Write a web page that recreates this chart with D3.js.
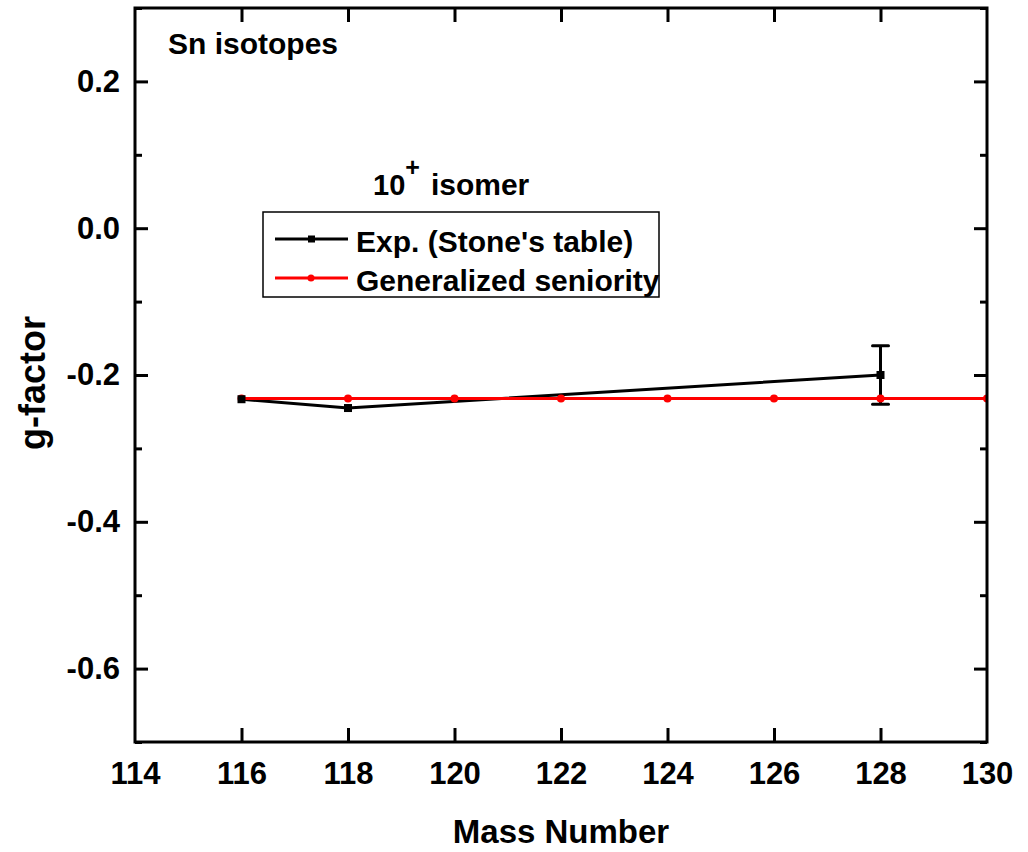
<!DOCTYPE html>
<html>
<head>
<meta charset="utf-8">
<script src="https://cdn.jsdelivr.net/npm/d3@7"></script>
<style>
  html, body { margin: 0; padding: 0; background: #fff; }
  svg { display: block; }
  text { font-family: "Liberation Sans", Arial, sans-serif; font-weight: bold; fill: #000; }
</style>
</head>
<body>
<svg id="chart" width="1028" height="852"></svg>
<script>
// Experimental g-factors of the 10+ isomer (Stone's table)
const massExp = [116, 118, 128];
const gExp = [-0.233, -0.245, -0.200];
const errExp = [0.005, 0.005, 0.040];

// Generalized seniority prediction
const massSen = [116, 118, 120, 122, 124, 126, 128, 130];
const gSen = [-0.232, -0.232, -0.232, -0.232, -0.232, -0.232, -0.232, -0.232];

// Axis ticks
const xTicks = [114, 116, 118, 120, 122, 124, 126, 128, 130];
const yTicks = [0.2, 0.0, -0.2, -0.4, -0.6];
const yMinorTicks = [0.3, 0.2, 0.1, 0.0, -0.1, -0.2, -0.3, -0.4, -0.5, -0.6, -0.7];

const legendLabels = ["Exp. (Stone's table)", "Generalized seniority"];
const seriesColors = ["#000000", "#ff0000"];

const W = 1028, H = 852;
const margin = { left: 135, right: 41, top: 8, bottom: 110 };
const iw = W - margin.left - margin.right;
const ih = H - margin.top - margin.bottom;

const svg = d3.select("#chart");
const g = svg.append("g").attr("transform", `translate(${margin.left},${margin.top})`);

const x = d3.scaleLinear().domain([114, 130]).range([0, iw]);
const y = d3.scaleLinear().domain([-0.7, 0.3]).range([ih, 0]);

svg.append("defs").append("clipPath").attr("id", "plotClip")
  .append("rect").attr("x", 0).attr("y", 0).attr("width", iw).attr("height", ih);

const fmtY = d => d3.format(".1f")(d).replace("−", "-");
const isMajor = d => yTicks.some(t => Math.abs(t - d) < 1e-9);

// Axes: ticks point inward on all four sides
function styleAxis(sel) {
  sel.select(".domain").remove();
  sel.selectAll(".tick line").attr("stroke", "#000").attr("stroke-width", 3);
}

const xAxisB = g.append("g").attr("transform", `translate(0,${ih})`)
  .call(d3.axisBottom(x).tickValues(xTicks).tickSize(-14).tickPadding(20).tickFormat(d3.format("d")));
styleAxis(xAxisB);
xAxisB.selectAll("text").style("font-size", "31px");
xAxisB.selectAll(".tick").filter(d => d === 114 || d === 130).select("line").remove();

const xAxisT = g.append("g")
  .call(d3.axisTop(x).tickValues(xTicks.filter(d => d !== 114 && d !== 130)).tickSize(-14).tickFormat(""));
styleAxis(xAxisT);

const yAxisL = g.append("g")
  .call(d3.axisLeft(y).tickValues(yTicks).tickSize(-13).tickPadding(15).tickFormat(fmtY));
styleAxis(yAxisL);
yAxisL.selectAll("text").style("font-size", "31px");

const yMinorL = g.append("g")
  .call(d3.axisLeft(y).tickValues(yMinorTicks.filter(d => !isMajor(d))).tickSize(-7).tickFormat(""));
styleAxis(yMinorL);

const yAxisR = g.append("g").attr("transform", `translate(${iw},0)`)
  .call(d3.axisRight(y).tickValues(yTicks).tickSize(-13).tickFormat(""));
styleAxis(yAxisR);

const yMinorR = g.append("g").attr("transform", `translate(${iw},0)`)
  .call(d3.axisRight(y).tickValues(yMinorTicks.filter(d => !isMajor(d))).tickSize(-7).tickFormat(""));
styleAxis(yMinorR);

// Data layer
const plot = g.append("g").attr("clip-path", "url(#plotClip)");

const expData = massExp.map((m, i) => ({ m, v: gExp[i], e: errExp[i] }));
const senData = massSen.map((m, i) => ({ m, v: gSen[i] }));

const line = d3.line().x(d => x(d.m)).y(d => y(d.v));

plot.append("path").datum(expData)
  .attr("d", line).attr("fill", "none").attr("stroke", seriesColors[0]).attr("stroke-width", 3);

// Error bars
const eb = plot.append("g").selectAll("g").data(expData).join("g");
eb.append("line")
  .attr("x1", d => x(d.m)).attr("x2", d => x(d.m))
  .attr("y1", d => y(d.v + d.e)).attr("y2", d => y(d.v - d.e))
  .attr("stroke", "#000").attr("stroke-width", 3);
eb.filter(d => d.e > 0.01).selectAll(".cap").data(d => [d.v + d.e, d.v - d.e].map(v => ({ m: d.m, v })))
  .join("line")
  .attr("x1", d => x(d.m) - 8).attr("x2", d => x(d.m) + 8)
  .attr("y1", d => y(d.v)).attr("y2", d => y(d.v))
  .attr("stroke", "#000").attr("stroke-width", 3).attr("stroke-linecap", "round");

plot.append("path").datum(senData)
  .attr("d", line).attr("fill", "none").attr("stroke", seriesColors[1]).attr("stroke-width", 3);

plot.append("g").selectAll("circle").data(senData).join("circle")
  .attr("cx", d => x(d.m)).attr("cy", d => y(d.v)).attr("r", 4)
  .attr("fill", seriesColors[1]);

plot.append("g").selectAll("rect").data(expData).join("rect")
  .attr("x", d => x(d.m) - 4).attr("y", d => y(d.v) - 4)
  .attr("width", 8).attr("height", 8).attr("fill", seriesColors[0]);

// Frame
g.append("rect").attr("x", 0).attr("y", 0).attr("width", iw).attr("height", ih)
  .attr("fill", "none").attr("stroke", "#000").attr("stroke-width", 3);

// Axis titles
svg.append("text").attr("x", margin.left + iw / 2).attr("y", 843)
  .attr("text-anchor", "middle").style("font-size", "33px").text("Mass Number");
svg.append("text").attr("transform", `translate(45,383) rotate(-90)`)
  .attr("text-anchor", "middle").style("font-size", "36px").text("g-factor");

// Annotations
svg.append("text").attr("x", 168).attr("y", 54).style("font-size", "30px").text("Sn isotopes");
const iso = svg.append("text").attr("x", 373).attr("y", 195).style("font-size", "29px");
iso.append("tspan").text("10");
iso.append("tspan").attr("dy", -19).style("font-size", "25px").text("+");
iso.append("tspan").attr("dy", 19).attr("dx", 11).style("font-size", "30px").text("isomer");

// Legend
const leg = svg.append("g");
leg.append("rect").attr("x", 263).attr("y", 212).attr("width", 396).attr("height", 85)
  .attr("fill", "#fff").attr("stroke", "#000").attr("stroke-width", 1.5);
const rows = leg.selectAll(".row").data(legendLabels).join("g")
  .attr("transform", (d, i) => `translate(0,${239 + i * 39})`);
rows.append("line").attr("x1", 275).attr("x2", 348).attr("y1", 0).attr("y2", 0)
  .attr("stroke", (d, i) => seriesColors[i]).attr("stroke-width", 3);
rows.each(function (d, i) {
  const r = d3.select(this);
  if (i === 0) r.append("rect").attr("x", 308).attr("y", -3.5).attr("width", 7).attr("height", 7).attr("fill", seriesColors[0]);
  else r.append("circle").attr("cx", 311).attr("cy", 0).attr("r", 3.5).attr("fill", seriesColors[1]);
});
rows.append("text").attr("x", 356).attr("y", 2).attr("dy", "0.35em").style("font-size", "30px").text(d => d);
</script>
</body>
</html>
